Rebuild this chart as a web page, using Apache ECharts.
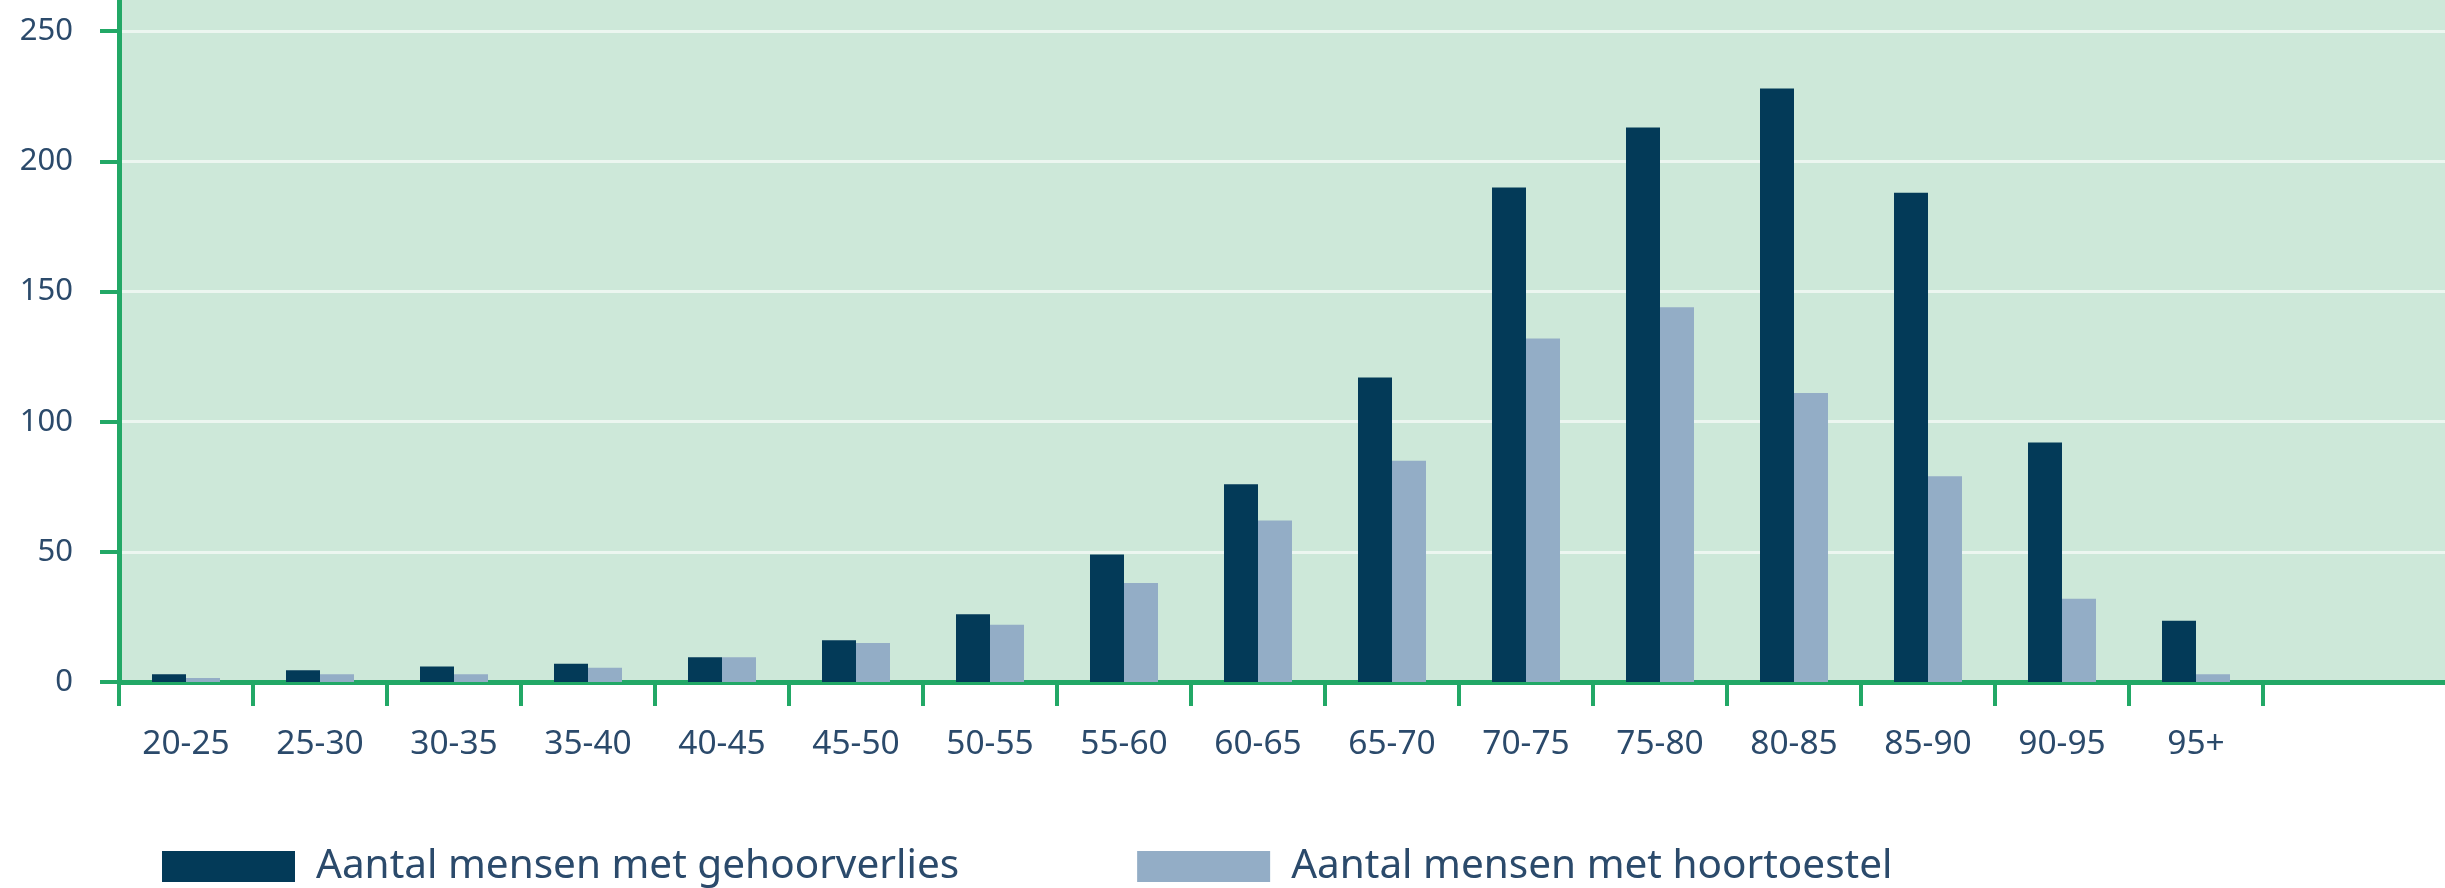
<!DOCTYPE html>
<html>
<head>
<meta charset="utf-8">
<script src="https://cdn.jsdelivr.net/npm/echarts@6/dist/echarts.min.js"></script>
<style>
  html, body { margin: 0; padding: 0; background: #fff; }
  #chart { width: 2445px; height: 888px; }
</style>
</head>
<body>
<div id="chart"></div>
<script>
// leeftijdsgroepen
const ageGroups = ['20-25', '25-30', '30-35', '35-40', '40-45', '45-50', '50-55', '55-60',
  '60-65', '65-70', '70-75', '75-80', '80-85', '85-90', '90-95', '95+'];
// aantal mensen met gehoorverlies
const hearingLoss = [3, 4.5, 6, 7, 9.5, 16, 26, 49, 76, 117, 190, 213, 228, 188, 92, 23.5];
// aantal mensen met hoortoestel
const hearingAid = [1.5, 3, 3, 5.5, 9.5, 15, 22, 38, 62, 85, 132, 144, 111, 79, 32, 3];
const yTicks = [0, 50, 100, 150, 200, 250];

const seriesNames = ['Aantal mensen met gehoorverlies', 'Aantal mensen met hoortoestel'];

const green = '#22a866';
const labelColor = '#2b4a6b';
const font = 'Noto Sans';
const yMax = 262;

let chart = echarts.init(document.getElementById('chart'));
chart.setOption({
  animation: false,
  grid: [
    // achtergrond over de hele breedte
    { left: 119, right: 0, top: 0, bottom: 206, show: true, backgroundColor: '#cde8d9', borderWidth: 0 },
    // staven
    { left: 119, right: 182, top: 0, bottom: 206 }
  ],
  legend: {
    data: seriesNames,
    left: 157,
    top: 841,
    itemWidth: 133,
    itemHeight: 31,
    itemGap: 178,
    icon: 'rect',
    textStyle: { fontFamily: font, fontSize: 40.5, color: labelColor, padding: [0, 0, 0, 16] }
  },
  xAxis: [
    {
      gridIndex: 0, type: 'category', data: [''],
      axisLine: { lineStyle: { color: green, width: 5 } },
      axisTick: { show: false }, axisLabel: { show: false }
    },
    {
      gridIndex: 1, type: 'category', data: ageGroups,
      axisLine: { lineStyle: { color: green, width: 5 } },
      axisTick: { show: true, interval: 0, length: 24, lineStyle: { color: green, width: 4 } },
      axisLabel: { interval: 0, margin: 45, fontFamily: font, fontSize: 33.5, color: labelColor }
    }
  ],
  yAxis: [
    {
      gridIndex: 0, type: 'value', min: 0, max: yMax, interval: 50,
      axisLine: { show: true, lineStyle: { color: green, width: 5 } },
      axisTick: { show: true, length: 19, customValues: yTicks, lineStyle: { color: green, width: 4 } },
      axisLabel: { margin: 46, customValues: yTicks, fontFamily: font, fontSize: 31, color: labelColor },
      splitLine: { show: true, lineStyle: { color: '#ecf6f0', width: 3 } }
    },
    {
      gridIndex: 1, type: 'value', min: 0, max: yMax, show: false,
      splitLine: { show: false }
    }
  ],
  series: [
    {
      name: seriesNames[0], type: 'bar', xAxisIndex: 1, yAxisIndex: 1,
      data: hearingLoss, barWidth: 34, barGap: '0%',
      itemStyle: { color: '#033a58' }
    },
    {
      name: seriesNames[1], type: 'bar', xAxisIndex: 1, yAxisIndex: 1,
      data: hearingAid, barWidth: 34, barGap: '0%',
      itemStyle: { color: '#93adc6' }
    }
  ]
});
</script>
</body>
</html>
